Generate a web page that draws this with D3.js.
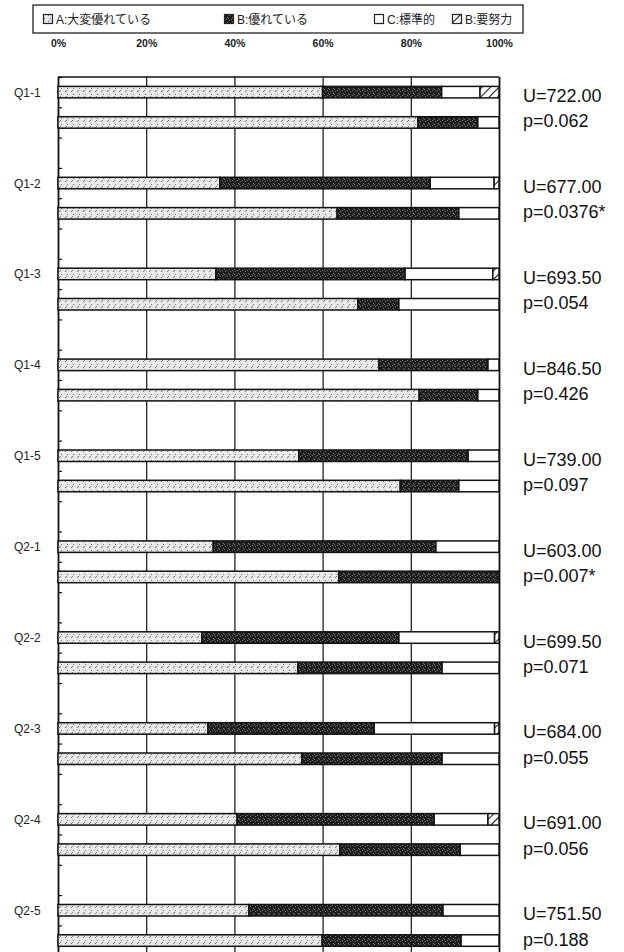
<!DOCTYPE html>
<html>
<head>
<meta charset="utf-8">
<script src="https://cdn.jsdelivr.net/npm/d3@7"></script>
<style>
  body { margin: 0; background: #fff; }
  text { font-family: "Liberation Sans", Arial, "Noto Sans CJK JP", sans-serif; }
</style>
</head>
<body>
<svg class="chart"></svg>
<script>
// question labels, test stats
const questions = ["Q1-1", "Q1-2", "Q1-3", "Q1-4", "Q1-5", "Q2-1", "Q2-2", "Q2-3", "Q2-4", "Q2-5"];
const uValues   = ["722.00", "677.00", "693.50", "846.50", "739.00", "603.00", "699.50", "684.00", "691.00", "751.50"];
const pValues   = ["0.062", "0.0376*", "0.054", "0.426", "0.097", "0.007*", "0.071", "0.055", "0.056", "0.188"];

// two bars per question (group 1, group 2), percent
const gradeA = [60.0, 81.6, 36.7, 63.3, 35.8, 68.0, 72.8, 81.9, 54.6, 77.6, 35.2, 63.7, 32.6, 54.4, 34.0, 55.3, 40.6, 63.9, 43.3, 59.9];
const gradeB = [27.0, 13.6, 47.7, 27.6, 42.9,  9.3, 24.7, 13.3, 38.4, 13.3, 50.5, 36.3, 44.7, 32.7, 37.7, 31.8, 44.7, 27.3, 44.0, 31.5];
const gradeC = [ 8.7,  4.8, 14.5,  9.1, 19.9, 22.7,  2.5,  4.8,  7.0,  9.1, 14.3,  0.0, 21.7, 12.9, 27.3, 12.9, 12.2,  8.8, 12.7,  8.6];
const gradeD = [ 4.3,  0.0,  1.1,  0.0,  1.4,  0.0,  0.0,  0.0,  0.0,  0.0,  0.0,  0.0,  1.0,  0.0,  1.0,  0.0,  2.5,  0.0,  0.0,  0.0];

const legendLabels = ["A:大変優れている", "B:優れている", "C:標準的", "B:要努力"];
const xTicks = [0, 20, 40, 60, 80, 100];

let width  = 624;
let height = 952;
let svg = d3.select(".chart").attr("width", width).attr("height", height);

let plotLeft = 58, plotRight = 499, plotTop = 77;
let rowH = 30.3;
let barH = 11.5;

// rows: bar 1, bar 2, blank for each question
let rows = [];
questions.forEach(function(q) { rows.push(q + "|1", q + "|2", q + "|gap"); });

let x = d3.scaleLinear().domain([0, 100]).range([plotLeft, plotRight]);
let y = d3.scaleBand().domain(rows).range([plotTop, plotTop + rows.length * rowH]);

// patterns
let defs = svg.append("defs");

let pA = defs.append("pattern").attr("id", "patA").attr("patternUnits", "userSpaceOnUse")
  .attr("width", 6).attr("height", 6);
pA.append("rect").attr("width", 6).attr("height", 6).attr("fill", "#e6e6e6");
[[0,0],[3,2],[1,4],[4,5],[5,1],[2,3]].forEach(function(d, i) {
  pA.append("rect").attr("x", d[0]).attr("y", d[1]).attr("width", 1).attr("height", 1)
    .attr("fill", i % 2 ? "#fff" : "#777");
});

let pB = defs.append("pattern").attr("id", "patB").attr("patternUnits", "userSpaceOnUse")
  .attr("width", 5).attr("height", 5);
pB.append("rect").attr("width", 5).attr("height", 5).attr("fill", "#1e1e1e");
[[0,1],[3,3],[2,0],[4,4]].forEach(function(d) {
  pB.append("rect").attr("x", d[0]).attr("y", d[1]).attr("width", 1).attr("height", 1).attr("fill", "#777");
});

let pD = defs.append("pattern").attr("id", "patD").attr("patternUnits", "userSpaceOnUse")
  .attr("width", 6).attr("height", 6).attr("patternTransform", "rotate(45)");
pD.append("rect").attr("width", 6).attr("height", 6).attr("fill", "#fff");
pD.append("line").attr("x1", 0).attr("y1", 0).attr("x2", 0).attr("y2", 6)
  .attr("stroke", "#111").attr("stroke-width", 2);

const fills = ["url(#patA)", "url(#patB)", "#fff", "url(#patD)"];

// legend
let legend = svg.append("g").attr("class", "legend");
legend.append("rect")
  .attr("x", 33).attr("y", 5).attr("width", 490).attr("height", 28)
  .attr("fill", "#fff").attr("stroke", "#222").attr("stroke-width", 1.3);

let legendX = [43, 224, 374, 452];
legendLabels.forEach(function(label, i) {
  let g = legend.append("g").attr("transform", "translate(" + legendX[i] + ",14)");
  g.append("rect").attr("x", 0.5).attr("y", 0.5).attr("width", 9).attr("height", 9)
    .attr("fill", fills[i]).attr("stroke", "#222").attr("stroke-width", 1.2);
  g.append("text").attr("x", 13).attr("y", 10)
    .attr("font-size", 12).attr("fill", "#222")
    .text(label);
});

// x axis labels on top
svg.append("g")
  .attr("class", "x-axis")
  .attr("transform", "translate(0,50)")
  .call(d3.axisTop(x).tickValues(xTicks).tickSize(0).tickFormat(function(d) { return d + "%"; }))
  .call(function(g) { g.select(".domain").remove(); })
  .selectAll("text")
  .attr("font-size", 10.5)
  .attr("font-weight", "bold")
  .attr("fill", "#222")
  .attr("dy", 0);

// grid lines
svg.append("g")
  .attr("class", "grid")
  .attr("transform", "translate(0," + plotTop + ")")
  .call(d3.axisBottom(x).tickValues(xTicks).tickSize(height).tickFormat(""))
  .call(function(g) { g.select(".domain").remove(); })
  .selectAll("line")
  .attr("stroke", "#111")
  .attr("stroke-width", function(d) { return (d === 0 || d === 100) ? 1.8 : 1.2; });

// top border
svg.append("line")
  .attr("x1", x(0)).attr("x2", x(100)).attr("y1", plotTop).attr("y2", plotTop)
  .attr("stroke", "#111").attr("stroke-width", 1.5);

// small inner ticks on the left axis at row boundaries
let tickScale = d3.scaleLinear().domain([0, rows.length]).range([plotTop, plotTop + rows.length * rowH]);
svg.append("g")
  .attr("class", "y-ticks")
  .attr("transform", "translate(" + plotLeft + ",0)")
  .call(d3.axisRight(tickScale).ticks(rows.length).tickSize(4).tickFormat(""))
  .call(function(g) { g.select(".domain").remove(); })
  .selectAll("line")
  .attr("stroke", "#111").attr("stroke-width", 1.2);

// stacked bars
let barRows = [];
questions.forEach(function(q, qi) {
  [0, 1].forEach(function(k) {
    let i = qi * 2 + k;
    barRows.push({ key: q + "|" + (k + 1), A: gradeA[i], B: gradeB[i], C: gradeC[i], D: gradeD[i] });
  });
});

let stack = d3.stack().keys(["A", "B", "C", "D"]);
let series = stack(barRows);

svg.append("g")
  .attr("class", "bars")
  .selectAll("g")
  .data(series)
  .join("g")
  .attr("fill", function(d, i) { return fills[i]; })
  .selectAll("rect")
  .data(function(d) { return d.filter(function(s) { return s[1] - s[0] > 0; }); })
  .join("rect")
  .attr("x", function(d) { return x(d[0]); })
  .attr("width", function(d) { return x(d[1]) - x(d[0]); })
  .attr("y", function(d) { return y(d.data.key) + (y.bandwidth() - barH) / 2; })
  .attr("height", barH)
  .attr("stroke", "#111")
  .attr("stroke-width", 1.5);

// question labels
svg.append("g")
  .attr("class", "q-labels")
  .selectAll("text")
  .data(questions)
  .join("text")
  .attr("x", 14)
  .attr("y", function(d) { return y(d + "|1") + y.bandwidth() / 2 + 4.5; })
  .attr("font-size", 12)
  .attr("fill", "#222")
  .text(function(d) { return d; });

// U / p stats on the right
let stats = svg.append("g").attr("class", "stats");
stats.selectAll("text.u")
  .data(questions)
  .join("text")
  .attr("class", "u")
  .attr("x", 523)
  .attr("y", function(d) { return y(d + "|1") + y.bandwidth() / 2 + 10; })
  .attr("font-size", 18)
  .attr("fill", "#111")
  .text(function(d, i) { return "U=" + uValues[i]; });

stats.selectAll("text.p")
  .data(questions)
  .join("text")
  .attr("class", "p")
  .attr("x", 523)
  .attr("y", function(d) { return y(d + "|2") + y.bandwidth() / 2 + 5; })
  .attr("font-size", 18)
  .attr("fill", "#111")
  .text(function(d, i) { return "p=" + pValues[i]; });
</script>
</body>
</html>
